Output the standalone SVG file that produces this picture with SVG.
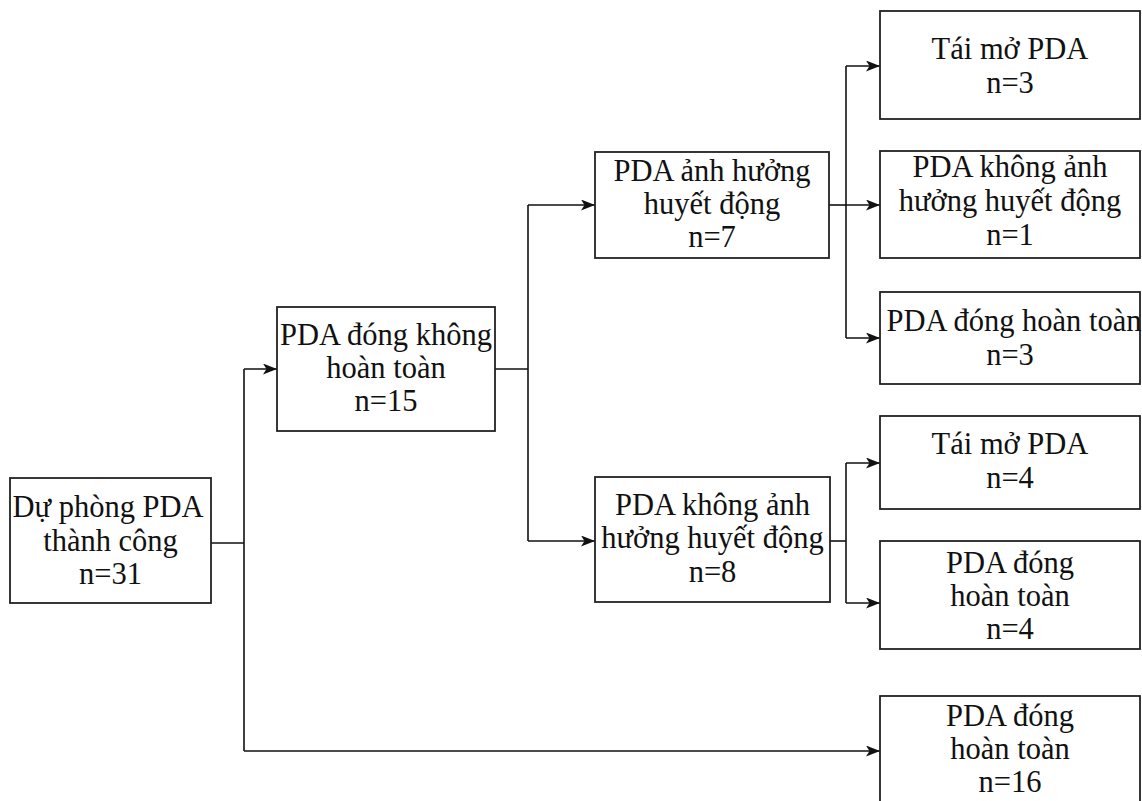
<svg xmlns="http://www.w3.org/2000/svg" width="1142" height="801" viewBox="0 0 1142 801">
<style>
.box{fill:#fff;stroke:#222;stroke-width:1.8}
.t{font-family:"Liberation Serif","Times New Roman",serif;font-size:30.5px;fill:#111;text-anchor:middle}
.c{fill:none;stroke:#111;stroke-width:1.6}
</style>
<defs>
<marker id="arr" viewBox="0 0 14 11" refX="14" refY="5.5" markerWidth="14" markerHeight="11" markerUnits="userSpaceOnUse" orient="auto">
<path d="M0,0 L14,5.5 L0,11 L3.5,5.5 Z" fill="#111"/>
</marker>
</defs>
<rect width="1142" height="801" fill="#fff"/>
<g id="connectors">
<path class="c" d="M211,543 H244"/>
<path class="c" d="M244,369 V751"/>
<path class="c" d="M244,369 H277" marker-end="url(#arr)"/>
<path class="c" d="M244,751 H880" marker-end="url(#arr)"/>
<path class="c" d="M495,369 H528"/>
<path class="c" d="M528,205 V541"/>
<path class="c" d="M528,205 H595" marker-end="url(#arr)"/>
<path class="c" d="M528,541 H595" marker-end="url(#arr)"/>
<path class="c" d="M829,205 H846"/>
<path class="c" d="M846,66 V338"/>
<path class="c" d="M846,66 H880" marker-end="url(#arr)"/>
<path class="c" d="M846,205 H880" marker-end="url(#arr)"/>
<path class="c" d="M846,338 H880" marker-end="url(#arr)"/>
<path class="c" d="M830,541 H846"/>
<path class="c" d="M846,463 V603"/>
<path class="c" d="M846,463 H880" marker-end="url(#arr)"/>
<path class="c" d="M846,603 H880" marker-end="url(#arr)"/>
</g>
<g id="n1"><rect class="box" x="10" y="478" width="201" height="125"/>
<text class="t" x="108" y="517">Dự phòng PDA</text><text class="t" x="110.5" y="551">thành công</text><text class="t" x="110.5" y="584">n=31</text></g>
<g id="n2"><rect class="box" x="277" y="307" width="218" height="124"/>
<text class="t" x="386" y="345">PDA đóng không</text><text class="t" x="386" y="378">hoàn toàn</text><text class="t" x="386" y="411">n=15</text></g>
<g id="n3"><rect class="box" x="595" y="152" width="234" height="106"/>
<text class="t" x="712" y="181">PDA ảnh hưởng</text><text class="t" x="712" y="214">huyết động</text><text class="t" x="712" y="247">n=7</text></g>
<g id="n4"><rect class="box" x="595" y="477" width="235" height="125"/>
<text class="t" x="712.5" y="515">PDA không ảnh</text><text class="t" x="712.5" y="548">hưởng huyết động</text><text class="t" x="712.5" y="582">n=8</text></g>
<g id="n5"><rect class="box" x="880" y="11" width="260" height="108"/>
<text class="t" x="1010" y="59">Tái mở PDA</text><text class="t" x="1010" y="93">n=3</text></g>
<g id="n6"><rect class="box" x="880" y="151" width="260" height="107"/>
<text class="t" x="1010" y="177">PDA không ảnh</text><text class="t" x="1010" y="211">hưởng huyết động</text><text class="t" x="1010" y="245">n=1</text></g>
<g id="n7"><rect class="box" x="880" y="292" width="260" height="92"/>
<text class="t" x="1014" y="331">PDA đóng hoàn toàn</text><text class="t" x="1010" y="365">n=3</text></g>
<g id="n8"><rect class="box" x="880" y="416" width="260" height="93"/>
<text class="t" x="1010" y="454">Tái mở PDA</text><text class="t" x="1010" y="488">n=4</text></g>
<g id="n9"><rect class="box" x="880" y="541" width="260" height="108"/>
<text class="t" x="1010" y="573">PDA đóng</text><text class="t" x="1010" y="606">hoàn toàn</text><text class="t" x="1010" y="639">n=4</text></g>
<g id="n10"><rect class="box" x="880" y="696" width="260" height="120"/>
<text class="t" x="1010" y="726">PDA đóng</text><text class="t" x="1010" y="759">hoàn toàn</text><text class="t" x="1010" y="792">n=16</text></g>
</svg>
